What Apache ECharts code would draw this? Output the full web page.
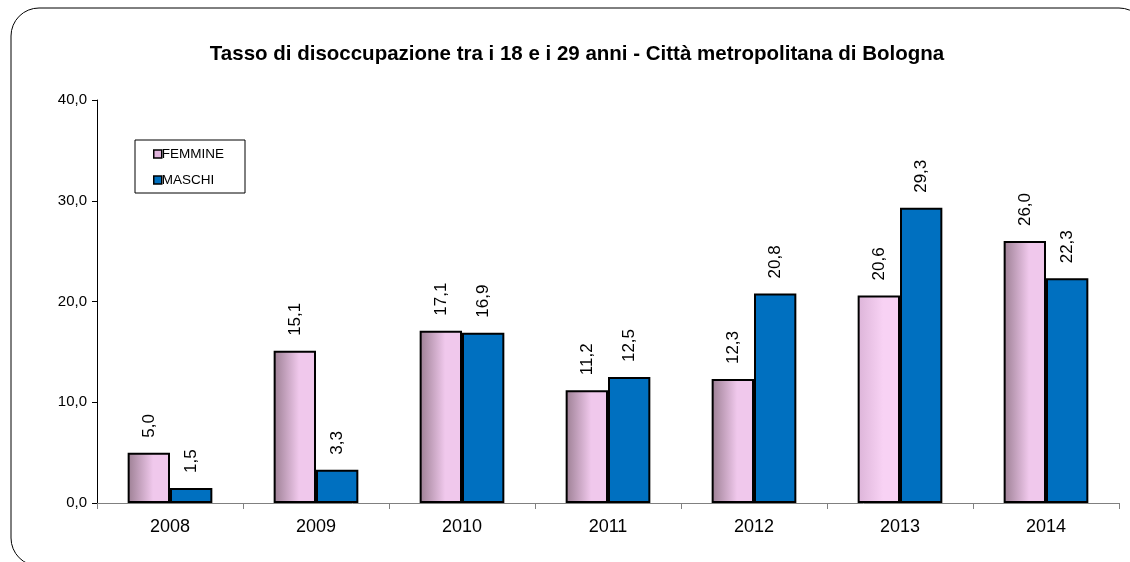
<!DOCTYPE html>
<html>
<head>
<meta charset="utf-8">
<style>
html, body { margin: 0; padding: 0; background: #fff; }
#main { width: 1130px; height: 562px; }
</style>
<script src="https://cdn.jsdelivr.net/npm/echarts@6/dist/echarts.min.js"></script>
</head>
<body>
<div id="main"></div>
<script>
let years = ['2008', '2009', '2010', '2011', '2012', '2013', '2014'];
let femmine = [5.0, 15.1, 17.1, 11.2, 12.3, 20.6, 26.0];
let maschi = [1.5, 3.3, 16.9, 12.5, 20.8, 29.3, 22.3];

let chartDom = document.getElementById('main');
let myChart = echarts.init(chartDom);

function pinkFill(dark, light) {
	return new echarts.graphic.LinearGradient(0, 0, 1, 0, [
		{ offset: 0, color: dark },
		{ offset: 0.6, color: light },
		{ offset: 1, color: light }
	]);
}

let normalPink = pinkFill('#9c7f93', '#f0c8ec');
let palePink = pinkFill('#dcb4d8', '#f8d2f4');

let femData = femmine.map((v, i) => ({
	value: v,
	itemStyle: { color: years[i] === '2013' ? palePink : normalPink }
}));

let fmt = (p) => p.value.toFixed(1).replace('.', ',');
let font = 'Liberation Sans, Arial, sans-serif';

let labelStyle = {
	show: true,
	position: 'top',
	rotate: 90,
	align: 'left',
	verticalAlign: 'middle',
	distance: 15,
	fontSize: 17,
	fontFamily: font,
	color: '#000',
	formatter: fmt
};

let option = {
	animation: false,
	backgroundColor: '#fff',
	title: {
		text: 'Tasso di disoccupazione tra i 18 e i 29 anni - Città metropolitana di Bologna',
		left: 572,
		textAlign: 'center',
		top: 39,
		textStyle: {
			fontSize: 20.5,
			fontWeight: 'bold',
			fontFamily: font,
			color: '#000'
		}
	},
	graphic: [
		{
			type: 'rect',
			shape: { x: 11, y: 8, width: 1136, height: 558, r: 28 },
			style: { fill: null, stroke: '#000', lineWidth: 1 },
			z: 0
		},
		{
			type: 'rect',
			shape: { x: 135, y: 140, width: 110, height: 53 },
			style: { fill: '#fff', stroke: '#000', lineWidth: 1 },
			z: 1
		}
	],
	legend: {
		orient: 'vertical',
		left: 148,
		top: 142,
		itemWidth: 8,
		itemHeight: 8,
		itemGap: 12,
		icon: 'rect',
		textStyle: {
			fontSize: 13.5,
			fontFamily: font,
			color: '#000',
			padding: [0, 0, 0, -5]
		},
		itemStyle: { borderColor: '#000', borderWidth: 1.5 },
		data: [
			{ name: 'FEMMINE', itemStyle: { color: '#e0b4dc' } },
			{ name: 'MASCHI', itemStyle: { color: '#0070c0' } }
		],
		z: 5
	},
	grid: {
		left: 97,
		right: 11,
		top: 100,
		bottom: 59
	},
	xAxis: {
		type: 'category',
		data: years,
		axisLine: { lineStyle: { color: '#808080', width: 1 } },
		axisTick: { show: true, length: 6, lineStyle: { color: '#808080' } },
		axisLabel: {
			fontSize: 18,
			margin: 15,
			fontFamily: font,
			color: '#000'
		}
	},
	yAxis: {
		type: 'value',
		min: 0,
		max: 40,
		interval: 10,
		axisLine: { show: true, lineStyle: { color: '#000', width: 1 } },
		axisTick: { show: true, length: 5, lineStyle: { color: '#000' } },
		splitLine: { show: false },
		axisLabel: {
			fontSize: 15,
			margin: 10,
			fontFamily: font,
			color: '#000',
			formatter: (v) => v.toFixed(1).replace('.', ',')
		}
	},
	series: [
		{
			name: 'FEMMINE',
			type: 'bar',
			data: femData,
			barGap: '0%',
			barCategoryGap: '42%',
			itemStyle: { borderColor: '#000', borderWidth: 2 },
			label: labelStyle
		},
		{
			name: 'MASCHI',
			type: 'bar',
			data: maschi,
			itemStyle: { color: '#0070c0', borderColor: '#000', borderWidth: 2 },
			label: labelStyle
		}
	]
};

myChart.setOption(option);
</script>
</body>
</html>
